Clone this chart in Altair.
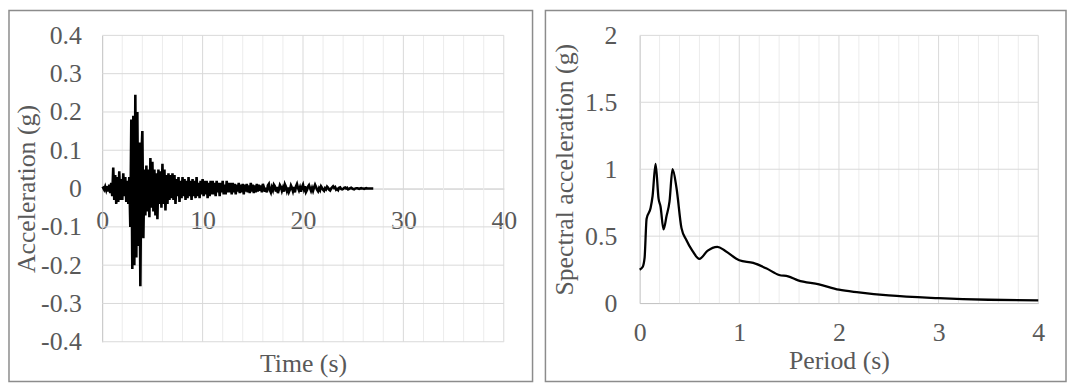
import altair as alt
import pandas as pd

# ---------------- data: left panel (acceleration time history, 0.1 s sampling) ----------------
acc_g = [
    0.0, 0.002, -0.003, 0.005, -0.004, 0.006, -0.008, 0.01, -0.012, 0.015,
    -0.02, 0.055, -0.03, 0.035, -0.04, 0.03, -0.035, 0.045, -0.03, 0.025,
    -0.03, 0.04, -0.02, 0.03, -0.035, 0.02, -0.04, 0.03, -0.1, 0.18,
    -0.21, 0.19, -0.2, 0.245, -0.18, 0.2, -0.15, 0.12, -0.255, 0.08,
    0.15, -0.13, 0.05, -0.07, 0.06, -0.06, 0.05, -0.075, 0.08, -0.05,
    0.07, -0.06, 0.05, -0.07, 0.04, -0.08, 0.05, -0.04, 0.045, -0.05,
    0.065, -0.04, 0.05, -0.057, 0.035, -0.04, 0.04, -0.03, 0.035, -0.025,
    0.04, -0.03, 0.035, -0.04, 0.025, -0.02, 0.03, -0.035, 0.02, -0.025,
    0.03, -0.02, 0.025, -0.03, 0.02, -0.025, 0.03, -0.02, 0.02, -0.03,
    0.025, -0.02, 0.02, -0.025, 0.03, -0.02, 0.015, -0.025, 0.02, -0.015,
    0.025, -0.02, 0.02, -0.015, 0.02, -0.025, 0.015, -0.02, 0.02, -0.015,
    0.02, -0.015, 0.015, -0.02, 0.02, -0.01, 0.015, -0.02, 0.015, -0.01,
    0.02, -0.015, 0.01, -0.015, 0.02, -0.01, 0.015, -0.01, 0.015, -0.015,
    0.015, -0.01, 0.012, -0.015, 0.01, -0.008, 0.015, -0.012, 0.01, -0.01,
    0.012, -0.015, 0.01, -0.008, 0.012, -0.01, 0.008, -0.012, 0.015, -0.008,
    0.01, -0.012, 0.008, -0.01, 0.012, -0.008, 0.01, -0.006, 0.008, -0.01,
    0.012, 0.004, -0.008, 0.002, -0.01, 0.008, 0.012, -0.004, -0.01, 0.003,
    -0.004, 0.01, 0.006, -0.008, 0.004, -0.012, -0.002, 0.009, 0.004, -0.006,
    0.002, -0.008, 0.011, 0.005, -0.006, 0.003, -0.009, -0.003, 0.008, 0.002,
    -0.007, 0.004, -0.01, 0.006, 0.012, 0.002, -0.005, 0.003, -0.008, 0.004,
    0.01, -0.002, 0.006, -0.009, -0.004, 0.005, 0.009, 0.001, -0.006, 0.002,
    -0.006, 0.003, 0.01, 0.004, -0.003, -0.007, 0.001, -0.004, 0.006, 0.002,
    -0.003, -0.006, 0.001, -0.002, 0.005, 0.002, -0.003, -0.005, 0.0, 0.003,
    0.006, 0.002, 0.004, -0.003, -0.001, -0.004, 0.002, 0.003, -0.001, -0.002,
    -0.001, 0.002, 0.003, 0.0, 0.002, -0.002, -0.001, 0.001, 0.002, 0.0,
    -0.001, -0.002, 0.0, 0.001, 0.001, 0.0, -0.001, 0.0, 0.001, 0.0,
    0.0, -0.001, 0.0, 0.001, 0.0, 0.0, 0.0, 0.0, 0.0, 0.0,
    0.0,
]
time_s = [round(i * 0.1, 1) for i in range(len(acc_g))]

# ---------------- data: right panel (response spectrum) ----------------
period_s = [0.0, 0.03, 0.05, 0.07, 0.11, 0.13, 0.16, 0.19, 0.21, 0.24, 0.27, 0.30,
            0.33, 0.37, 0.42, 0.47, 0.53, 0.6, 0.68, 0.78, 0.86, 1.0, 1.14, 1.27,
            1.40, 1.49, 1.59, 1.8, 2.0, 2.2, 2.5, 3.0, 3.5, 4.0]
spectral_g = [0.25, 0.27, 0.34, 0.63, 0.71, 0.8, 1.04, 0.78, 0.72, 0.55, 0.65, 0.76,
              1.0, 0.86, 0.56, 0.47, 0.39, 0.33, 0.39, 0.42, 0.39, 0.32, 0.30, 0.26,
              0.21, 0.20, 0.17, 0.14, 0.10, 0.08, 0.057, 0.037, 0.025, 0.02]

# ---------------- ticks / gridlines ----------------
left_x_ticks = [0, 10, 20, 30, 40]
left_y_ticks = [-0.4, -0.3, -0.2, -0.1, 0, 0.1, 0.2, 0.3, 0.4]
left_minor_x = [2, 4, 6, 8, 12, 14, 16, 18, 22, 24, 26, 28, 32, 34, 36, 38]
left_major_x = [10, 20, 30, 40]
left_grid_y = [-0.4, -0.3, -0.2, -0.1, 0.1, 0.2, 0.3, 0.4]

right_x_ticks = [0, 1, 2, 3, 4]
right_y_ticks = [0, 0.5, 1, 1.5, 2]
right_minor_x = [0.2, 0.4, 0.6, 0.8, 1.2, 1.4, 1.6, 1.8, 2.2, 2.4, 2.6, 2.8,
                 3.2, 3.4, 3.6, 3.8]
right_major_x = [1, 2, 3, 4]
right_grid_y = [0.5, 1, 1.5, 2]

FONT = "Liberation Serif"
LABEL = "#595959"
MAJOR = "#d9d9d9"
MINOR = "#ececec"
AXIS = "#bfbfbf"
FRAME = "#8c8c8c"

LW, LH = 405, 309
RW, RH = 402, 270


def frame(x1, x2, y1, y2):
    return alt.Chart(pd.DataFrame({"k": [0]})).mark_rect(
        fill="white", fillOpacity=0, stroke=FRAME, strokeWidth=1.5
    ).encode(x=alt.value(x1), x2=alt.value(x2), y=alt.value(y1), y2=alt.value(y2))


def vrules(values, scale, axis, color):
    return alt.Chart(pd.DataFrame({"v": values})).mark_rule(color=color, strokeWidth=1).encode(
        x=alt.X("v:Q", scale=scale, axis=axis)
    )


def hrules(values, scale, axis, color):
    return alt.Chart(pd.DataFrame({"v": values})).mark_rule(color=color, strokeWidth=1).encode(
        y=alt.Y("v:Q", scale=scale, axis=axis)
    )


# ---------------- left chart ----------------
lx = alt.Scale(domain=[0, 40], nice=False, zero=False)
ly = alt.Scale(domain=[-0.4, 0.4], nice=False, zero=False)
lx_axis = alt.Axis(
    values=left_x_ticks, offset=-LH / 2, domain=True, domainColor=AXIS, domainWidth=1,
    ticks=False, grid=False, labelPadding=19, labelFlush=False, labelOverlap=False,
    format="d", title="Time (s)", titleY=184, titleBaseline="alphabetic")
ly_axis = alt.Axis(
    values=left_y_ticks, domain=True, domainColor=AXIS, ticks=False, grid=False,
    labelPadding=21, labelOverlap=False,
    labelExpr="datum.value == 0 ? '0' : (datum.value < 0 ? '-' : '') + format(abs(datum.value), '.1f')",
    title="Acceleration (g)", titleX=-68, titleBaseline="alphabetic")

left_line = alt.Chart(pd.DataFrame({"t": time_s, "a": acc_g})).mark_line(
    color="black", strokeWidth=2.6
).encode(
    x=alt.X("t:Q", scale=lx, axis=lx_axis),
    y=alt.Y("a:Q", scale=ly, axis=ly_axis),
)

left = alt.layer(
    frame(-94, 434, -25, 349),
    vrules(left_minor_x, lx, lx_axis, MINOR),
    vrules(left_major_x, lx, lx_axis, MAJOR),
    hrules(left_grid_y, ly, ly_axis, MAJOR),
    left_line,
).properties(width=LW, height=LH)

# ---------------- right chart ----------------
rx = alt.Scale(domain=[0, 4], nice=False, zero=False)
ry = alt.Scale(domain=[0, 2], nice=False, zero=False)
rx_axis = alt.Axis(
    values=right_x_ticks, domain=True, domainColor=AXIS, ticks=False, grid=False,
    labelPadding=17, labelFlush=False, labelOverlap=False, format="d",
    title="Period (s)", titleY=66, titleBaseline="alphabetic")
ry_axis = alt.Axis(
    values=right_y_ticks, domain=True, domainColor=AXIS, ticks=False, grid=False,
    labelPadding=23, labelOverlap=False, format="~g",
    title="Spectral acceleration (g)", titleX=-68, titleBaseline="alphabetic")

right_line = alt.Chart(pd.DataFrame({"T": period_s, "S": spectral_g})).mark_line(
    color="black", strokeWidth=2.3, interpolate="monotone"
).encode(
    x=alt.X("T:Q", scale=rx, axis=rx_axis),
    y=alt.Y("S:Q", scale=ry, axis=ry_axis),
)

right = alt.layer(
    frame(-95, 430, -25, 349),
    vrules(right_minor_x, rx, rx_axis, MINOR),
    vrules(right_major_x, rx, rx_axis, MAJOR),
    hrules(right_grid_y, ry, ry_axis, MAJOR),
    right_line,
).properties(width=RW, height=RH)

chart = alt.hconcat(left, right, spacing=11).properties(
    padding=0, background="white"
).configure_view(strokeWidth=0).configure_axis(
    labelFont=FONT, titleFont=FONT, labelFontSize=26, titleFontSize=26,
    labelColor=LABEL, titleColor=LABEL, titleFontWeight="normal"
)

chart.save("out.html", embed_options={"renderer": "svg", "actions": False})
